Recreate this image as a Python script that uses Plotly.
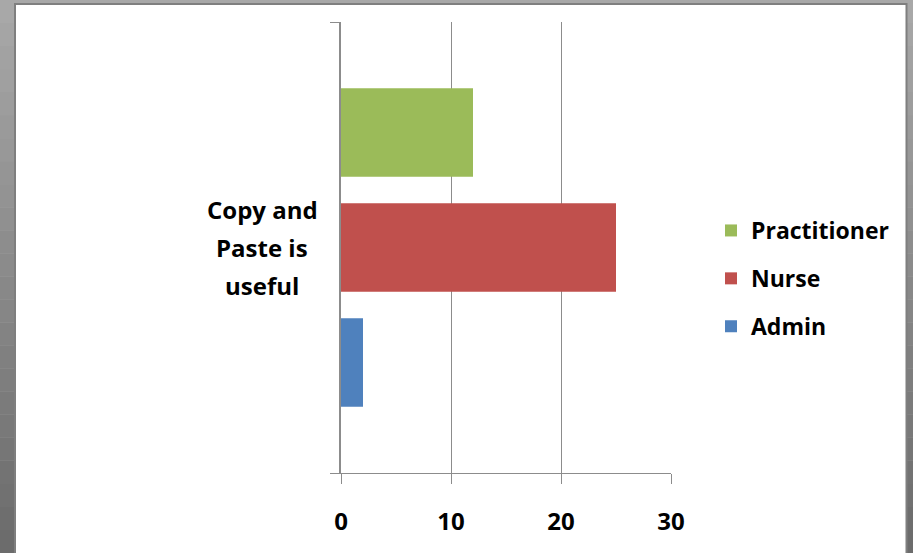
import plotly.graph_objects as go

categories = ["Copy and Paste is useful"]
category_label_lines = ["Copy and", "Paste is", "useful"]
series_names = ["Admin", "Nurse", "Practitioner"]
legend_ranks = {"Practitioner": 1, "Nurse": 2, "Admin": 3}
series_values = {"Admin": [2], "Nurse": [25], "Practitioner": [12]}
series_colors = {"Admin": "#4F81BD", "Nurse": "#C0504D", "Practitioner": "#9BBB59"}
x_ticks = [0, 10, 20, 30]

W, H = 913, 553
L, R, T, B = 341, 913 - 671, 22, 553 - 473
PW, PH = W - L - R, H - T - B

def px(xp):
    return (xp - L) / PW

def py(yp):
    return (H - B - yp) / PH

FONT = "Open Sans"

fig = go.Figure()
for name in series_names:
    fig.add_trace(go.Bar(
        y=categories, x=series_values[name], name=name, orientation="h",
        marker=dict(color=series_colors[name], line=dict(width=0)),
        legendgroup=name, legendrank=legend_ranks[name],
    ))

shapes = []
# grey frame gradient strips
n = 24
for i in range(n):
    y0 = H - (i + 1) * H / n
    y1 = H - i * H / n
    t = i / (n - 1)
    g = int(0x6c + (0xa8 - 0x6c) * t)
    col = f"rgb({g},{g},{g})"
    shapes.append(dict(type="rect", xref="paper", yref="paper", x0=px(0), x1=px(W),
                       y0=py(y0), y1=py(y1), fillcolor=col, line=dict(width=0), layer="below"))
shapes.append(dict(type="rect", xref="paper", yref="paper", x0=px(15), x1=px(906.5),
                   y0=py(H + 5), y1=py(4), fillcolor="white",
                   line=dict(color="#7f7f7f", width=2), layer="below"))

annotations = []
for i, line in enumerate(category_label_lines):
    annotations.append(dict(
        x=px(262), xref="paper", y=categories[0], yref="y", text=line,
        showarrow=False, align="center", xanchor="center", yanchor="middle",
        yshift=(1 - i) * 38,
        font=dict(family=FONT, size=24, color="black", weight="bold"),
    ))

fig.update_layout(
    width=W, height=H,
    margin=dict(l=L, r=R, t=T, b=B),
    paper_bgcolor="#a0a0a0", plot_bgcolor="rgba(0,0,0,0)",
    barmode="group", bargap=0.235, bargroupgap=0.23,
    font=dict(family=FONT, size=22, color="black"),
    shapes=shapes,
    showlegend=True,
    legend=dict(
        x=px(711), y=py(209), xanchor="left", yanchor="top",
        traceorder="grouped", tracegroupgap=15,
        font=dict(family=FONT, size=23, color="black", weight="bold"),
        bgcolor="rgba(0,0,0,0)", itemwidth=30,
    ),
    xaxis=dict(
        range=[0, 30], tickvals=x_ticks, ticktext=[str(v) for v in x_ticks],
        showgrid=True, gridcolor="#8c8c8c", gridwidth=1,
        showline=True, linecolor="#8c8c8c", linewidth=1,
        ticks="outside", ticklen=10, tickcolor="#8c8c8c",
        tickfont=dict(family=FONT, size=24, color="black", weight="bold"),
        ticklabelstandoff=17, zeroline=False, fixedrange=True,
    ),
    yaxis=dict(
        type="category", showline=True, linecolor="#8c8c8c", linewidth=1.5,
        ticks="outside", ticklen=9, tickcolor="#8c8c8c", tickson="boundaries",
        showticklabels=False, showgrid=False, zeroline=False, fixedrange=True,
    ),
    annotations=annotations,
)

fig.write_html("out.html", post_script="document.body.style.margin='0';",
               config={"displayModeBar": False})
